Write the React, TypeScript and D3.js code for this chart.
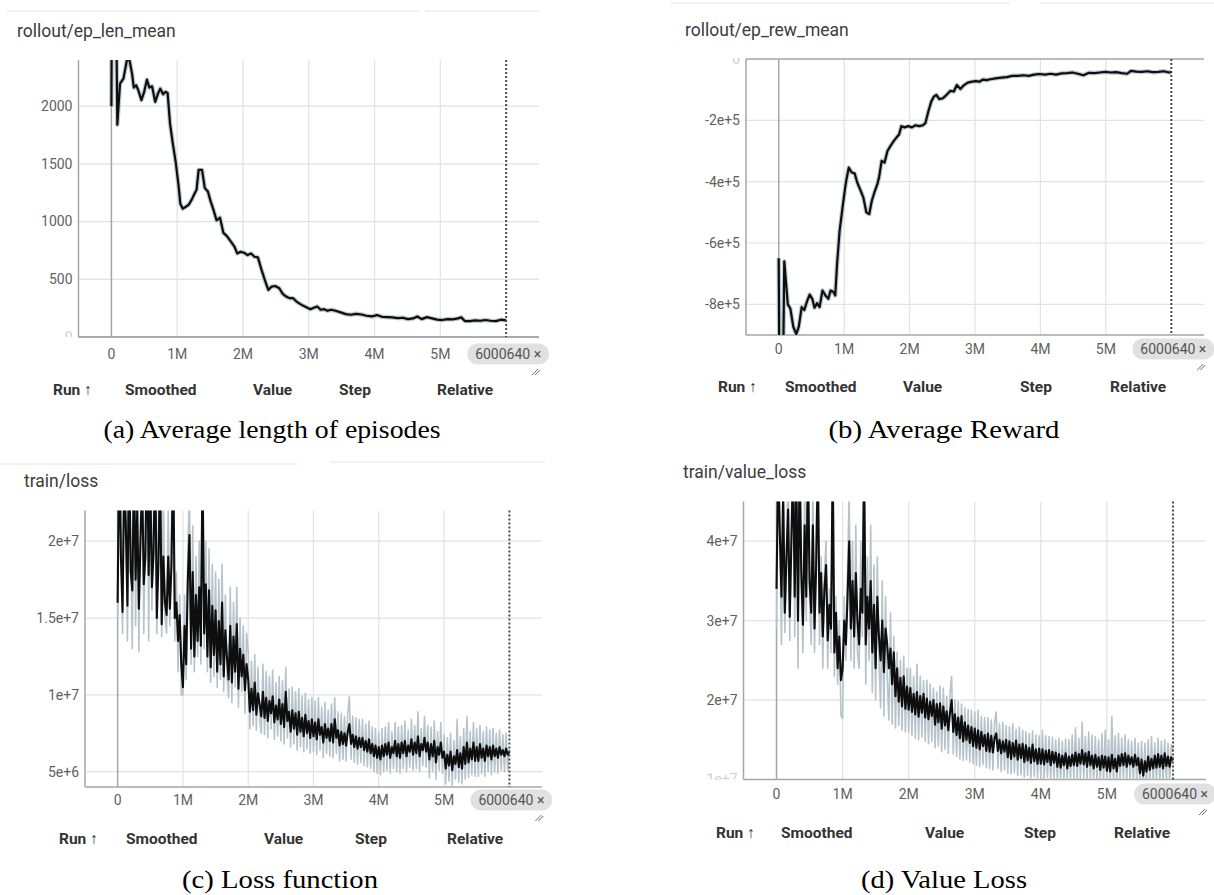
import React from "react";
import * as d3 from "d3";

// ---------- shared axis data ----------
const X_TICKS = [0, 1e6, 2e6, 3e6, 4e6, 5e6];
const X_TICK_LABELS = ["0", "1M", "2M", "3M", "4M", "5M"];
const LAST_STEP = 6000640;
const LAST_STEP_LABEL = "6000640 ×";
const TABLE_HEADERS = ["Run ↑", "Smoothed", "Value", "Step", "Relative"];

// ---------- (a) rollout/ep_len_mean ----------
const LEN_STEPS_M = [0, 0.005, 0.075, 0.09, 0.131, 0.183, 0.236, 0.273, 0.314, 0.341, 0.377, 0.409, 0.456, 0.498, 0.54, 0.577, 0.618, 0.666, 0.708, 0.744, 0.786, 0.823, 0.854, 0.891, 0.933, 0.98, 1.022, 1.048, 1.085, 1.127, 1.179, 1.221, 1.263, 1.295, 1.326, 1.378, 1.42, 1.467, 1.504, 1.546, 1.599, 1.651, 1.703, 1.756, 1.819, 1.871, 1.913, 1.965, 2.018, 2.07, 2.123, 2.175, 2.227, 2.28, 2.332, 2.385, 2.437, 2.49, 2.552, 2.605, 2.657, 2.71, 2.762, 2.814, 2.867, 2.919, 2.972, 3.024, 3.077, 3.129, 3.181, 3.234, 3.286, 3.339, 3.407, 3.485, 3.564, 3.643, 3.721, 3.8, 3.878, 3.957, 4.036, 4.114, 4.193, 4.271, 4.35, 4.429, 4.507, 4.586, 4.649, 4.717, 4.796, 4.874, 4.953, 5.031, 5.11, 5.189, 5.267, 5.319, 5.372, 5.451, 5.529, 5.608, 5.686, 5.765, 5.844, 5.922, 6.0006];
const LEN_VALUES = [2000, 2700, 2700, 1840, 2195, 2239, 2400, 2405, 2282, 2161, 2181, 2138, 2052, 2124, 2230, 2161, 2172, 2037, 2109, 2152, 2103, 2124, 2115, 1851, 1678, 1506, 1304, 1155, 1112, 1126, 1149, 1190, 1241, 1276, 1448, 1448, 1290, 1260, 1184, 1112, 1011, 1034, 902, 874, 825, 782, 724, 738, 730, 710, 724, 695, 690, 586, 494, 408, 437, 442, 422, 373, 350, 336, 336, 307, 287, 270, 256, 241, 253, 264, 236, 241, 227, 236, 227, 213, 198, 193, 201, 195, 184, 178, 190, 175, 172, 170, 164, 167, 155, 161, 178, 155, 172, 161, 150, 147, 155, 153, 161, 170, 138, 138, 144, 141, 147, 141, 138, 150, 144];
const LEN_Y_TICKS = [500, 1000, 1500, 2000];
const LEN_Y_LABELS = ["500", "1000", "1500", "2000"];

// ---------- (b) rollout/ep_rew_mean (values in thousands) ----------
const REW_STEPS_M = [0, 0.008, 0.07, 0.085, 0.139, 0.178, 0.223, 0.268, 0.307, 0.351, 0.39, 0.435, 0.474, 0.513, 0.547, 0.586, 0.625, 0.669, 0.714, 0.759, 0.792, 0.837, 0.864, 0.892, 0.931, 0.976, 1.015, 1.032, 1.071, 1.115, 1.16, 1.199, 1.255, 1.294, 1.339, 1.383, 1.422, 1.461, 1.506, 1.534, 1.573, 1.617, 1.662, 1.707, 1.757, 1.796, 1.84, 1.874, 1.924, 1.98, 2.036, 2.091, 2.147, 2.203, 2.242, 2.287, 2.331, 2.37, 2.409, 2.454, 2.51, 2.565, 2.621, 2.677, 2.722, 2.777, 2.833, 2.889, 2.956, 3.012, 3.067, 3.123, 3.179, 3.235, 3.318, 3.402, 3.486, 3.569, 3.653, 3.737, 3.82, 3.904, 3.988, 4.071, 4.155, 4.239, 4.322, 4.406, 4.49, 4.573, 4.657, 4.741, 4.824, 4.908, 4.992, 5.076, 5.159, 5.243, 5.327, 5.383, 5.466, 5.55, 5.634, 5.717, 5.801, 5.885, 5.968, 6.0006];
const REW_VALUES_K = [-650, -960, -960, -660, -800, -814, -873, -897, -873, -809, -819, -789, -768, -782, -811, -796, -809, -755, -771, -782, -755, -760, -771, -668, -560, -484, -420, -397, -354, -370, -373, -402, -431, -452, -500, -506, -463, -436, -409, -386, -332, -338, -300, -284, -268, -257, -246, -219, -223, -219, -223, -216, -219, -216, -209, -171, -139, -123, -117, -131, -128, -117, -104, -106, -85, -98, -85, -77, -74, -72, -74, -67, -69, -66, -63, -61, -59, -55, -55, -53, -55, -51, -49, -51, -48, -51, -47, -46, -44, -48, -53, -45, -46, -44, -42, -44, -43, -46, -48, -39, -41, -42, -40, -43, -42, -40, -44, -42];
const REW_Y_TICKS = [-8e5, -6e5, -4e5, -2e5];
const REW_Y_LABELS = ["-8e+5", "-6e+5", "-4e+5", "-2e+5"];

// ---------- (c) train/loss (millions, one value every 25k steps) ----------
const LOSS_SMOOTHED_M = [
  16, 27, 19, 15.4, 24, 21, 15.8, 26, 18, 16.8,
  25, 17.5, 22, 15.6, 20, 24, 17.2, 19, 27, 17.8,
  24, 17.0, 19.2, 26, 15.0, 18.5, 25, 14.6, 19.0, 16.0,
  15.2, 19.0, 15.6, 18.5, 26, 15.0, 16.0, 13.5, 15.2, 12.0,
  10.5, 14.5, 12.0, 17.5, 20.4, 13.0, 18.0, 12.5, 16.5, 13.5,
  17.0, 13.2, 25, 14.0, 17.2, 12.5, 16.8, 11.8, 15.8, 12.6,
  15.5, 11.5, 14.8, 12.0, 16.0, 11.2, 14.2, 12.4, 11.0, 14.5,
  10.8, 13.8, 11.5, 14.6, 10.4, 13.0, 11.2, 12.6, 10.3, 12.0,
  11.0, 8.9, 10.4, 9.0, 10.8, 8.7, 10.1, 9.4, 8.6, 10.2,
  8.5, 9.8, 8.3, 9.6, 8.8, 9.9, 8.2, 9.3, 8.4, 9.7,
  8.1, 9.4, 7.9, 10.2, 8.3, 8.9, 7.6, 9.0, 7.8, 8.8,
  7.4, 8.9, 7.6, 8.5, 7.3, 8.7, 7.5, 8.3, 7.2, 8.4,
  7.3, 8.2, 7.1, 8.4, 7.4, 7.9, 6.9, 8.1, 7.2, 7.8,
  7.0, 8.1, 6.9, 8.4, 7.2, 7.7, 6.7, 7.6, 6.8, 7.5,
  6.7, 7.6, 8.1, 6.8, 7.4, 6.6, 7.3, 6.5, 7.2, 6.6,
  7.2, 6.4, 7.0, 6.3, 7.1, 6.2, 6.8, 6.0, 6.7, 5.9,
  6.6, 5.8, 6.7, 6.0, 6.8, 6.1, 6.9, 5.9, 6.6, 6.2,
  7.0, 6.0, 6.8, 5.9, 6.9, 6.2, 7.0, 6.0, 6.7, 6.3,
  7.1, 6.1, 6.9, 6.2, 7.3, 6.0, 6.8, 6.4, 7.2, 6.3,
  6.9, 5.8, 6.8, 6.0, 7.0, 5.6, 6.6, 6.1, 6.9, 5.9,
  6.3, 5.2, 6.1, 5.4, 6.3, 5.1, 6.0, 5.5, 6.4, 5.3,
  6.2, 5.2, 6.6, 5.5, 6.9, 5.6, 6.5, 5.8, 6.9, 5.7,
  6.6, 5.7, 6.8, 5.9, 6.5, 5.7, 6.7, 6.0, 6.6, 5.8,
  6.7, 6.0, 6.5, 5.9, 6.6, 6.1, 6.4, 6.0, 6.5, 6.1,
  6.3,
];
const LOSS_RAW_M = [
  15, 30, 22, 14, 28, 24, 13.5, 30, 20, 13,
  29, 14.5, 26, 12.8, 22, 28, 14, 21, 30, 13.5,
  28, 15.5, 22, 30, 14, 21, 29, 13.8, 23, 15,
  14, 22, 14.5, 21, 29, 13.5, 18, 11.5, 16.5, 10,
  10, 16.5, 11, 19.5, 23, 12, 21, 11.5, 19, 12.5,
  20, 12, 28, 13, 20, 11.5, 19.5, 10.8, 18.5, 11.2,
  18, 10.5, 17.5, 11, 18.5, 10.2, 16.5, 11.2, 9.8, 17,
  9.5, 16, 10.5, 17, 9.2, 15, 10.2, 14.5, 8.8, 14,
  12.8, 7.8, 12.2, 8.0, 12.6, 7.7, 11.8, 8.4, 7.5, 12.0,
  7.4, 11.5, 7.2, 11.2, 7.8, 11.6, 7.1, 10.8, 7.3, 11.2,
  7.0, 10.9, 6.8, 11.8, 7.2, 10.4, 6.6, 10.5, 6.8, 10.2,
  6.4, 10.4, 6.6, 9.9, 6.3, 10.1, 6.5, 9.7, 6.2, 9.8,
  6.3, 9.6, 6.1, 9.8, 6.4, 9.2, 5.9, 9.5, 6.2, 9.0,
  6.0, 9.4, 5.9, 9.8, 6.2, 8.9, 5.7, 8.8, 5.8, 8.6,
  5.7, 8.8, 9.9, 5.8, 8.6, 5.6, 8.5, 5.5, 8.4, 5.6,
  8.4, 5.4, 8.1, 5.3, 8.3, 5.2, 7.9, 5.0, 7.8, 4.9,
  7.6, 4.8, 7.8, 5.0, 7.9, 5.1, 8.2, 4.9, 7.6, 5.2,
  8.2, 5.0, 7.9, 4.9, 8.0, 5.2, 8.3, 5.0, 7.7, 5.3,
  8.4, 5.1, 8.0, 5.2, 8.9, 5.0, 7.8, 5.4, 8.6, 5.3,
  8.0, 4.6, 7.9, 5.0, 8.3, 4.5, 7.6, 5.1, 8.2, 4.9,
  7.4, 4.2, 7.2, 4.4, 7.5, 4.1, 7.0, 4.5, 8.4, 4.3,
  7.3, 4.2, 7.8, 4.5, 8.6, 4.6, 7.6, 4.8, 8.2, 4.7,
  7.8, 4.7, 8.0, 4.9, 7.6, 4.7, 7.9, 5.0, 7.7, 4.8,
  7.8, 5.0, 7.5, 4.9, 7.7, 5.1, 7.4, 5.0, 7.5, 5.1,
  6.5,
];
const LOSS_Y_TICKS = [5e6, 1e7, 1.5e7, 2e7];
const LOSS_Y_LABELS = ["5e+6", "1e+7", "1.5e+7", "2e+7"];

// ---------- (d) train/value_loss (millions, one value every 25k steps) ----------
const VLOSS_SMOOTHED_M = [
  34, 50, 41, 33, 46, 31, 38, 44, 30.5, 40,
  50, 33, 48, 30, 50, 36, 29.5, 42, 33, 50,
  35, 31, 42, 29, 37, 50, 31, 36, 28, 34,
  37, 27.5, 32, 29, 50, 26, 31, 24, 28, 22.5,
  24, 30, 27, 33, 40, 29, 35, 28, 36, 30,
  27, 34, 31, 50, 27, 33, 29, 35, 26, 32,
  24, 33, 28, 25, 30, 23.5, 29, 27, 24, 26.5,
  22, 26, 20.5, 24, 19.8, 22.8, 19.2, 23, 18.9, 21.7,
  18.8, 21.5, 18.5, 20.8, 18.2, 21.0, 17.9, 20.5, 18.4, 20.8,
  17.8, 20.2, 17.6, 19.8, 18.0, 20.0, 16.9, 19.5, 17.2, 19.6,
  16.4, 19.2, 16.8, 18.6, 16.2, 18.4, 20.0, 16.0, 18.2, 15.6,
  17.8, 15.2, 18.0, 14.8, 17.2, 15.0, 16.8, 14.6, 16.6, 14.2,
  16.4, 14.0, 16.2, 13.8, 16.0, 14.2, 15.6, 13.6, 15.8, 13.5,
  15.5, 13.4, 15.2, 15.8, 13.6, 15.0, 13.3, 14.8, 13.5, 15.0,
  12.8, 14.8, 12.6, 14.6, 12.9, 14.9, 12.5, 14.4, 12.7, 14.5,
  12.2, 14.3, 12.4, 14.0, 12.1, 14.4, 12.3, 13.8, 12.0, 13.9,
  12.0, 13.8, 11.9, 13.6, 12.2, 13.7, 11.8, 13.5, 12.1, 13.4,
  11.6, 13.2, 11.5, 13.0, 11.8, 13.3, 11.4, 12.9, 11.7, 13.1,
  11.8, 13.4, 11.7, 13.2, 12.0, 13.7, 11.9, 13.3, 11.6, 13.5,
  11.8, 13.0, 11.4, 13.1, 11.6, 12.8, 11.2, 13.0, 11.5, 12.9,
  11.1, 12.8, 11.0, 13.1, 11.4, 12.6, 11.0, 13.0, 11.7, 13.2,
  11.8, 13.3, 11.6, 13.0, 11.9, 12.8, 11.6, 13.1, 11.8, 12.7,
  10.8, 12.5, 10.5, 12.3, 11.0, 12.9, 11.2, 12.6, 11.4, 13.0,
  11.5, 13.2, 11.6, 13.0, 11.4, 13.3, 11.7, 12.9, 11.6, 12.8,
  12.4,
];
const VLOSS_RAW_M = [
  29, 55, 40, 27, 50, 28.5, 36, 52, 27.5, 42,
  55, 28, 52, 24, 55, 34, 26, 46, 30, 55,
  33, 27, 47, 26, 40, 55, 27, 38, 24, 36,
  40, 24, 34, 26, 55, 23, 33, 22, 30, 18,
  17.7, 33, 25, 37, 46, 25, 40, 24, 42, 26,
  24, 40, 28, 55, 22, 38, 25, 42, 21, 37,
  20, 38, 25, 19, 35, 18, 33, 23, 17.5, 31,
  17, 28, 16.5, 26, 16.8, 25, 16.2, 25.5, 16, 24,
  16, 24, 15.5, 23, 15.2, 24.5, 15, 23, 15.4, 22.5,
  14.8, 22.5, 14.5, 22, 14.8, 21.5, 14, 21, 14.2, 21.8,
  13.5, 21.5, 13.8, 20.5, 13.3, 20.8, 23, 13.2, 20, 12.9,
  19.8, 12.6, 19.5, 12.4, 19, 12.5, 18.8, 12.2, 18.7, 12.0,
  18.5, 11.8, 18.7, 11.6, 18, 11.9, 17.8, 11.5, 17.8, 11.4,
  17.5, 11.2, 17.2, 18.5, 11.4, 17, 11.0, 17.2, 11.2, 16.8,
  10.8, 16.6, 10.7, 17.0, 10.9, 16.3, 10.5, 16.6, 10.6, 16.2,
  10.3, 16.0, 10.5, 15.8, 10.2, 16.1, 10.4, 15.6, 10.0, 15.5,
  10.1, 16.2, 10.0, 15.5, 10.3, 15.4, 9.8, 15.3, 10.1, 15.0,
  9.8, 15.2, 9.7, 14.8, 10.0, 15.1, 9.6, 15.0, 9.9, 15.6,
  10.0, 16.5, 9.8, 15.2, 10.1, 17.2, 10.0, 15.4, 9.7, 16.0,
  9.9, 15.6, 9.5, 15.4, 9.8, 15.0, 9.4, 15.8, 9.7, 16.2,
  9.4, 15.0, 9.3, 17.9, 9.6, 15.5, 9.2, 15.8, 9.8, 15.2,
  9.9, 15.6, 9.7, 15.0, 10.0, 14.8, 9.6, 15.2, 9.8, 14.6,
  9.0, 14.8, 8.8, 14.6, 9.2, 15.0, 9.4, 15.4, 9.5, 14.6,
  9.7, 15.2, 9.6, 14.8, 9.5, 15.0, 9.8, 14.6, 9.7, 14.4,
  13.5,
];
const VLOSS_Y_TICKS = [2e7, 3e7, 4e7];
const VLOSS_Y_LABELS = ["2e+7", "3e+7", "4e+7"];

const TRAIN_STEPS = d3.range(LOSS_SMOOTHED_M.length).map((i) => i * 25000);

type Pt = [number, number];

interface PanelProps {
  id: string;
  title: string;
  titleX: number;
  titleY: number;
  left: number;
  right: number;
  top: number;
  bottom: number;
  yDomain: [number, number];
  yTicks: number[];
  yLabels: string[];
  smoothed: Pt[];
  raw?: Pt[];
  halo?: boolean;
  tickY: number;
  headerY: number;
  headerXs: number[];
  caption: string;
  captionX: number;
  captionY: number;
  captionW: number;
  faint?: { text: string; value: number; keep: "above" | "below" };
  decor?: number[][];
}

const UI_FONT = "Roboto, 'Noto Sans', sans-serif";

function Panel(p: PanelProps) {
  const x = d3.scaleLinear().domain([-0.5e6, 6.5e6]).range([p.left, p.right]);
  const y = d3.scaleLinear().domain(p.yDomain).range([p.bottom, p.top]);
  const line = d3
    .line<Pt>()
    .x((d) => x(d[0]))
    .y((d) => y(d[1]));
  const clipId = `clip-${p.id}`;
  const dashX = x(LAST_STEP);
  const hasZeroY = p.yDomain[0] <= 0 && p.yDomain[1] >= 0;
  const faintClip = `faint-${p.id}`;
  return (
    <g>
      <defs>
        <clipPath id={clipId}>
          <rect x={p.left} y={p.top} width={p.right - p.left} height={p.bottom - p.top} />
        </clipPath>
        {p.faint && (
          <clipPath id={faintClip}>
            {p.faint.keep === "above" ? (
              <rect x={p.left - 60} y={p.top - 20} width={60} height={y(p.faint.value) - (p.top - 20)} />
            ) : (
              <rect x={p.left - 60} y={y(p.faint.value) - 1} width={60} height={30} />
            )}
          </clipPath>
        )}
      </defs>
      {p.decor &&
        p.decor.map((d, i) => (
          <line key={i} x1={d[0]} y1={d[1]} x2={d[2]} y2={d[3]} stroke="#e6e6e6" strokeWidth={1.2} />
        ))}
      <text x={p.titleX} y={p.titleY} fontFamily={UI_FONT} fontSize={17.5} fill="#3c3c3c">
        {p.title}
      </text>
      {p.yTicks.map((t) => (
        <line key={"h" + t} x1={p.left} x2={p.right} y1={y(t)} y2={y(t)} stroke="#e2e2e2" strokeWidth={1.2} />
      ))}
      {X_TICKS.filter((t) => t !== 0).map((t) => (
        <line key={"v" + t} x1={x(t)} x2={x(t)} y1={p.top} y2={p.bottom} stroke="#e2e2e2" strokeWidth={1.2} />
      ))}
      <line x1={x(0)} x2={x(0)} y1={p.top} y2={p.bottom} stroke="#a6a6a6" strokeWidth={1.5} />
      {hasZeroY && (
        <line x1={p.left} x2={p.right} y1={y(0)} y2={y(0)} stroke="#a6a6a6" strokeWidth={1.5} />
      )}
      <line x1={p.left} x2={p.left} y1={p.top} y2={p.bottom} stroke="#a6a6a6" strokeWidth={1.5} />
      <line x1={p.left} x2={p.right} y1={p.bottom} y2={p.bottom} stroke="#a6a6a6" strokeWidth={1.5} />
      <g clipPath={`url(#${clipId})`}>
        {p.halo && (
          <path d={line(p.smoothed) || ""} fill="none" stroke="#bccad2" strokeWidth={4.5} strokeLinejoin="round" />
        )}
        {p.raw && (
          <path d={line(p.raw) || ""} fill="none" stroke="#b6c3ca" strokeWidth={1.6} strokeLinejoin="round" />
        )}
        <path
          d={line(p.smoothed) || ""}
          fill="none"
          stroke="#0e0e0e"
          strokeWidth={p.raw ? 2.1 : 2.2}
          strokeLinejoin="round"
        />
      </g>
      <line x1={dashX} x2={dashX} y1={p.top} y2={p.bottom} stroke="#4a4a4a" strokeWidth={2} strokeDasharray="2 2" />
      {p.yTicks.map((t, i) => (
        <text key={"yl" + t} x={p.left - 6} y={y(t)} dy="0.35em" textAnchor="end" fontFamily={UI_FONT} fontSize={14} fill="#5f5f5f">
          {p.yLabels[i]}
        </text>
      ))}
      {p.faint && (
        <text
          x={p.left - 6}
          y={y(p.faint.value)}
          dy="0.35em"
          textAnchor="end"
          fontFamily={UI_FONT}
          fontSize={14}
          fill="#cfcfcf"
          clipPath={`url(#${faintClip})`}
        >
          {p.faint.text}
        </text>
      )}
      {X_TICKS.map((t, i) => (
        <text key={"xl" + t} x={x(t)} y={p.tickY} dy="0.35em" textAnchor="middle" fontFamily={UI_FONT} fontSize={14} fill="#5f5f5f">
          {X_TICK_LABELS[i]}
        </text>
      ))}
      <rect x={dashX - 39} y={p.tickY - 10.5} width={82} height={21} rx={10.5} fill="#e1e1e1" />
      <text x={dashX + 2} y={p.tickY} dy="0.35em" textAnchor="middle" fontFamily={UI_FONT} fontSize={14} fill="#555">
        {LAST_STEP_LABEL}
      </text>
      <g stroke="#6a6a6a" strokeWidth={1}>
        <line x1={dashX + 26} y1={p.tickY + 21} x2={dashX + 32} y2={p.tickY + 15} />
        <line x1={dashX + 29} y1={p.tickY + 21} x2={dashX + 34} y2={p.tickY + 16} />
      </g>
      {TABLE_HEADERS.map((h, i) => (
        <text key={h} x={p.headerXs[i]} y={p.headerY} dy="0.35em" fontFamily={UI_FONT} fontWeight={700} fontSize={15.5} fill="#333">
          {h}
        </text>
      ))}
      <text
        x={p.captionX}
        y={p.captionY}
        dy="0.35em"
        textAnchor="middle"
        fontFamily="'Liberation Serif', 'DejaVu Serif', serif"
        fontSize={25}
        textLength={p.captionW}
        lengthAdjust="spacingAndGlyphs"
        fill="#000"
      >
        {p.caption}
      </text>
    </g>
  );
}

export default function App() {
  const lenData: Pt[] = LEN_STEPS_M.map((s, i) => [s * 1e6, LEN_VALUES[i]]);
  const rewData: Pt[] = REW_STEPS_M.map((s, i) => [s * 1e6, REW_VALUES_K[i] * 1000]);
  const lossS: Pt[] = TRAIN_STEPS.map((s, i) => [s, LOSS_SMOOTHED_M[i] * 1e6]);
  const lossR: Pt[] = TRAIN_STEPS.map((s, i) => [s, LOSS_RAW_M[i] * 1e6]);
  const vS: Pt[] = TRAIN_STEPS.map((s, i) => [s, VLOSS_SMOOTHED_M[i] * 1e6]);
  const vR: Pt[] = TRAIN_STEPS.map((s, i) => [s, VLOSS_RAW_M[i] * 1e6]);

  return (
    <svg width={1214} height={895} style={{ position: "absolute", left: 0, top: 0, background: "#fff" }}>
      <rect width={1214} height={895} fill="#fff" />
      <Panel
        id="a"
        title="rollout/ep_len_mean"
        titleX={17}
        titleY={37}
        left={78.5}
        right={539}
        top={60}
        bottom={337}
        yDomain={[0, 2400]}
        yTicks={LEN_Y_TICKS}
        yLabels={LEN_Y_LABELS}
        smoothed={lenData}
        halo
        tickY={354}
        headerY={390}
        headerXs={[53, 125, 253, 339, 437]}
        caption="(a) Average length of episodes"
        captionX={272}
        captionY={429}
        captionW={337}
        faint={{ text: "0", value: 0, keep: "above" }}
        decor={[[7, 11, 420, 11], [425, 11, 540, 11]]}
      />
      <Panel
        id="b"
        title="rollout/ep_rew_mean"
        titleX={685}
        titleY={36}
        left={746}
        right={1204}
        top={59}
        bottom={335}
        yDomain={[-9e5, 0]}
        yTicks={REW_Y_TICKS}
        yLabels={REW_Y_LABELS}
        smoothed={rewData}
        halo
        tickY={349}
        headerY={387}
        headerXs={[718, 785, 903, 1020, 1110]}
        caption="(b) Average Reward"
        captionX={944}
        captionY={429}
        captionW={231}
        faint={{ text: "0", value: 0, keep: "below" }}
        decor={[[671, 3, 1010, 3], [1040, 3, 1214, 3]]}
      />
      <Panel
        id="c"
        title="train/loss"
        titleX={24}
        titleY={487}
        left={85}
        right={542}
        top={510.5}
        bottom={787}
        yDomain={[4e6, 2.2e7]}
        yTicks={LOSS_Y_TICKS}
        yLabels={LOSS_Y_LABELS}
        smoothed={lossS}
        raw={lossR}
        tickY={800}
        headerY={839}
        headerXs={[59, 126, 264, 355, 447]}
        caption="(c) Loss function"
        captionX={280}
        captionY={879}
        captionW={196}
        decor={[[0, 464, 297, 464], [330, 462, 545, 462]]}
      />
      <Panel
        id="d"
        title="train/value_loss"
        titleX={683}
        titleY={478}
        left={743.5}
        right={1206}
        top={501.5}
        bottom={779.5}
        yDomain={[1e7, 4.5e7]}
        yTicks={VLOSS_Y_TICKS}
        yLabels={VLOSS_Y_LABELS}
        smoothed={vS}
        raw={vR}
        tickY={794}
        headerY={833}
        headerXs={[716, 781, 925, 1024, 1114]}
        caption="(d) Value Loss"
        captionX={944}
        captionY={879}
        captionW={166}
        faint={{ text: "1e+7", value: 1e7, keep: "above" }}
      />
    </svg>
  );
}
